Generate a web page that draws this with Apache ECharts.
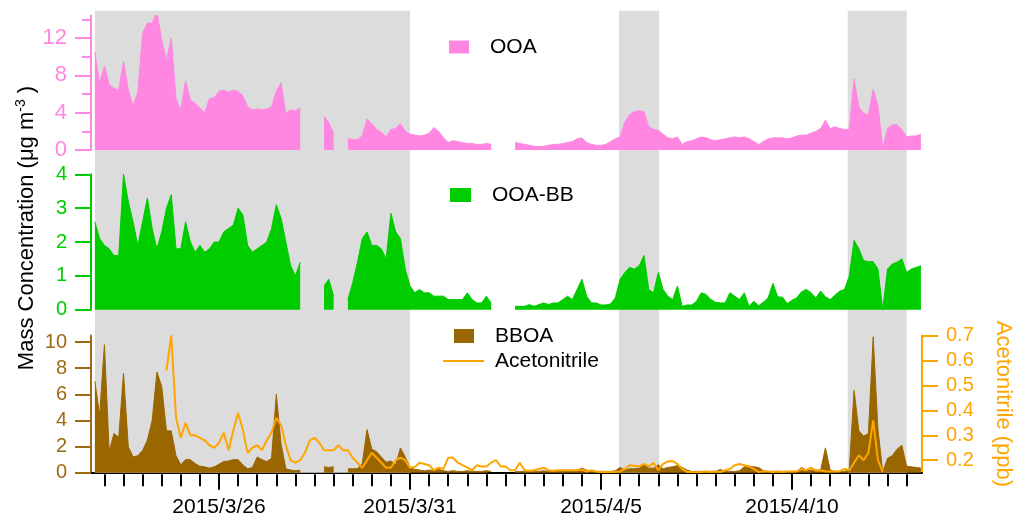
<!DOCTYPE html>
<html><head><meta charset="utf-8">
<script src="https://cdn.jsdelivr.net/npm/echarts@6/dist/echarts.min.js"></script>
<style>html,body{margin:0;padding:0;background:#fff}#c{width:1016px;height:528px}</style>
</head><body><div id="c"></div>
<script>
// time base: days since 2015-03-21 00:00, samples every 3 h starting 2015-03-22 18:00
const sampleStartDay = 1.75;
const sampleStepDay = 0.125;
const axisMinDay = 1.649;
const axisMaxDay = 23.403;

const ooa = [10.5,7.1,9.0,7.0,6.6,6.4,9.5,6.5,4.7,6.2,
12.5,13.6,13.6,14.8,11.8,9.6,12.0,5.5,4.3,7.4,
5.4,5.0,4.5,4.0,5.5,5.6,6.3,6.4,6.2,6.4,
6.3,5.8,4.6,4.3,4.4,4.3,4.4,4.6,6.3,7.2,
3.9,4.3,4.2,4.5,null,null,null,null,3.6,2.9,
1.8,null,null,1.25,1.1,1.1,1.5,3.3,2.8,2.2,
1.9,1.4,2.2,2.3,2.8,2.0,1.7,1.6,1.5,1.6,
1.8,2.4,2.0,1.3,0.8,1.0,0.9,0.8,0.7,0.7,
0.6,0.6,0.7,0.6,null,null,null,null,0.8,0.7,
0.6,0.5,0.4,0.35,0.4,0.5,0.6,0.6,0.7,0.8,
0.9,1.2,1.3,0.8,0.6,0.5,0.5,0.6,0.9,1.2,
1.4,3.0,3.8,4.1,4.2,4.1,2.5,2.2,2.1,1.7,
1.3,1.2,1.4,0.6,0.9,1.0,1.2,1.4,1.3,1.1,
1.0,1.1,1.2,1.3,1.4,1.3,1.4,1.2,0.9,0.6,
0.9,1.2,1.3,1.3,1.3,1.2,1.3,1.5,1.6,1.6,
1.8,2.0,2.3,3.2,2.3,2.5,2.3,2.2,2.2,7.6,
4.6,3.9,3.8,6.5,4.8,0.2,2.3,2.7,2.7,2.2,
1.4,1.5,1.5,1.7];

const ooaBB = [2.6,2.1,1.9,1.8,1.6,1.6,4.0,3.2,2.6,1.9,
2.6,3.3,2.4,1.8,2.3,3.0,3.4,1.8,1.8,2.6,
2.0,1.7,1.9,1.7,1.8,2.0,2.0,2.3,2.4,2.5,
3.0,2.8,1.9,1.7,1.8,1.9,2.0,2.4,3.1,2.7,
2.0,1.3,1.0,1.4,null,null,null,null,0.7,0.9,
0.4,null,null,0.3,0.8,1.4,2.1,2.3,1.9,1.9,
1.8,1.5,2.85,2.3,2.1,1.2,0.7,0.5,0.6,0.5,
0.5,0.4,0.4,0.4,0.3,0.3,0.3,0.3,0.5,0.3,
0.2,0.2,0.4,0.2,null,null,null,null,0.1,0.1,
0.1,0.15,0.1,0.15,0.2,0.15,0.2,0.2,0.3,0.4,
0.3,0.6,0.9,0.4,0.2,0.2,0.14,0.14,0.17,0.35,
0.9,1.1,1.25,1.2,1.3,1.6,0.6,0.5,1.1,0.6,
0.4,0.3,0.7,0.1,0.14,0.14,0.25,0.5,0.45,0.3,
0.22,0.2,0.2,0.5,0.4,0.3,0.5,0.1,0.25,0.12,
0.22,0.35,0.78,0.38,0.37,0.18,0.28,0.35,0.53,0.6,
0.5,0.35,0.55,0.38,0.3,0.43,0.55,0.6,1.0,2.05,
1.8,1.45,1.42,1.42,1.2,0.0,1.2,1.35,1.4,1.5,
1.1,1.2,1.25,1.3];

const bboa = [7.0,4.4,9.8,1.6,3.0,2.7,7.6,2.0,1.2,1.3,
1.7,2.5,4.0,7.7,6.6,3.2,3.2,1.3,0.6,1.0,
1.0,0.7,0.5,0.45,0.35,0.45,0.65,0.85,0.9,1.0,
1.0,0.6,0.3,0.4,1.2,1.0,0.85,1.1,6.0,2.2,
0.3,0.2,0.15,0.2,null,null,null,null,0.45,0.4,
0.45,null,null,0.3,0.3,0.3,0.7,3.3,1.8,1.6,
1.2,0.8,0.9,0.6,1.9,1.2,0.4,0.25,0.2,0.15,
0.2,0.15,0.25,0.15,0.1,0.15,0.1,0.1,0.15,0.1,
0.1,0.1,0.15,0.1,null,null,null,null,0.1,0.1,
0.1,0.1,0.1,0.1,0.15,0.1,0.1,0.1,0.1,0.15,
0.1,0.2,0.35,0.2,0.1,0.1,0.1,0.1,0.1,0.15,
0.4,0.2,0.3,0.3,0.35,0.6,0.35,0.35,0.6,0.3,
0.4,0.45,0.55,0.4,0.2,0.1,0.1,0.1,0.1,0.1,
0.1,0.25,0.1,0.1,0.1,0.15,0.45,0.5,0.45,0.4,
0.15,0.1,0.1,0.1,0.1,0.1,0.1,0.1,0.4,0.2,
0.2,0.2,0.2,1.9,0.2,0.1,0.1,0.1,0.3,6.3,
3.2,2.8,3.0,10.4,3.3,0.05,1.1,1.3,1.8,2.1,
0.5,0.45,0.4,0.35];

const acetonitrile = [null,null,null,null,null,null,null,null,null,null,
null,null,null,null,null,0.56,0.70,0.37,0.29,0.35,
0.30,0.30,0.29,0.28,0.26,0.25,0.27,0.31,0.24,0.32,
0.39,0.32,0.23,0.25,0.26,0.24,0.28,0.31,0.37,0.34,
0.26,0.20,0.19,0.20,0.23,0.28,0.29,0.27,0.24,0.24,
0.24,0.26,0.24,0.24,0.21,0.19,0.17,0.20,0.23,0.21,
0.19,0.17,0.17,0.20,0.21,0.20,0.17,0.173,0.19,0.185,
0.18,0.16,0.17,0.165,0.21,0.21,0.19,0.18,0.17,0.16,
0.18,0.175,0.175,0.19,0.20,0.175,0.175,0.16,0.16,0.19,
0.16,0.158,0.16,0.165,0.17,0.16,0.158,0.16,0.16,0.16,
0.16,0.16,0.162,0.155,0.16,0.155,0.153,0.153,0.153,0.153,
0.155,0.165,0.18,0.178,0.175,0.185,0.175,0.19,0.16,0.185,
0.195,0.197,0.185,0.165,0.153,0.153,0.152,0.153,0.155,0.153,
0.155,0.153,0.16,0.165,0.18,0.185,0.18,0.175,0.165,0.153,
0.155,0.155,0.153,0.155,0.153,0.155,0.155,0.155,0.165,0.16,
0.17,0.158,0.16,0.155,0.155,0.155,0.156,0.165,0.16,0.19,
0.22,0.20,0.23,0.36,0.20,0.153,null,null,null,null,
null,null,null,null];

// shaded periods (days since 2015-03-21)
const bandStart = [1.754, 15.471, 21.458];
const bandEnd = [10.0, 16.526, 23.003];

// axis ticks
const xLabelDays = [5, 10, 15, 20];
const xMinorDays = [];
for (let d = 2; d <= 23; d += 0.5) xMinorDays.push(d);
const ooaTicks = [0, 4, 8, 12];
const ooaMinorTicks = [2, 6, 10, 14];
const ooaBBTicks = [0, 1, 2, 3, 4];
const bboaTicks = [0, 2, 4, 6, 8, 10];
const acnTicks = [0.2, 0.3, 0.4, 0.5, 0.6, 0.7];

const toPairs = arr => arr.map((v, i) => [sampleStartDay + i * sampleStepDay, v]);

const PINK = '#ff87e1', GREEN = '#00cc00', BROWN = '#996600', BROWN_AX = '#9e6a12', ORANGE = '#ffa500';
const FONT = 'Liberation Sans, Arial, sans-serif';
const L = 91, R = 94;

function dayLabel(d) {
  const dt = new Date(2015, 2, 21 + Math.round(d));
  return dt.getFullYear() + '/' + (dt.getMonth() + 1) + '/' + dt.getDate();
}

function yAx(grid, min, max, color, ticks, fs, extra) {
  return Object.assign({
    type: 'value', gridIndex: grid, min: min, max: max, position: 'left',
    axisLine: { show: true, lineStyle: { color: color, width: 2 } },
    axisTick: { show: true, customValues: ticks, length: 16, lineStyle: { color: color, width: 2 } },
    axisLabel: { show: true, customValues: ticks, color: color, fontSize: fs, fontFamily: FONT, margin: 24 },
    splitLine: { show: false }
  }, extra || {});
}
function hiddenX(grid) {
  return { type: 'value', gridIndex: grid, min: axisMinDay, max: axisMaxDay, show: false };
}

const chart = echarts.init(document.getElementById('c'), null, { renderer: 'canvas' });
chart.setOption({
  animation: false,
  backgroundColor: '#fff',
  textStyle: { fontFamily: FONT },
  grid: [
    { left: L, right: R, top: 15.6, height: 134.4, outerBoundsMode: 'none' },
    { left: L, right: R, top: 174.3, height: 135.4, outerBoundsMode: 'none' },
    { left: L, right: R, top: 335.5, height: 137.2, outerBoundsMode: 'none' },
    { left: L, right: R, top: 10.7, height: 462, outerBoundsMode: 'none' }
  ],
  xAxis: [
    hiddenX(0),
    hiddenX(1),
    { type: 'value', gridIndex: 2, min: axisMinDay, max: axisMaxDay, offset: 1.5, position: 'bottom',
      axisLine: { show: true, lineStyle: { color: '#000', width: 2 } },
      axisTick: { show: true, customValues: xLabelDays, length: 17, lineStyle: { color: '#000', width: 2 } },
      axisLabel: { show: true, customValues: xLabelDays, formatter: v => dayLabel(v), fontSize: 21, color: '#000', fontFamily: FONT, margin: 23 },
      splitLine: { show: false } },
    { type: 'value', gridIndex: 2, min: axisMinDay, max: axisMaxDay, offset: 1.5, position: 'bottom',
      axisLine: { show: false },
      axisTick: { show: true, customValues: xMinorDays, length: 12, lineStyle: { color: '#000', width: 2 } },
      axisLabel: { show: false }, splitLine: { show: false } },
    hiddenX(3)
  ],
  yAxis: [
    yAx(0, 0, 14.4, PINK, ooaTicks, 22),
    { type: 'value', gridIndex: 0, min: 0, max: 14.4, position: 'left', axisLine: { show: false },
      axisTick: { show: true, customValues: ooaMinorTicks, length: 9, lineStyle: { color: PINK, width: 2 } },
      axisLabel: { show: false }, splitLine: { show: false } },
    yAx(1, 0, 4, GREEN, ooaBBTicks, 20),
    yAx(2, 0, 10.5, BROWN_AX, bboaTicks, 20),
    yAx(2, 0.15, 0.7, ORANGE, acnTicks, 20, { position: 'right', axisLabel: { show: true, customValues: acnTicks, color: ORANGE, fontSize: 20, fontFamily: FONT, margin: 24, formatter: v => v.toFixed(1) } }),
    { type: 'value', gridIndex: 3, min: 0, max: 1, show: false }
  ],
  legend: [
    { data: ['OOA'], left: 449, top: 36, padding: 0, icon: 'rect', itemWidth: 20, itemHeight: 13,
      textStyle: { fontSize: 21, lineHeight: 22, color: '#000', padding: [0, 0, 0, 16] } },
    { data: ['OOA-BB'], left: 450, top: 184, padding: 0, icon: 'rect', itemWidth: 21, itemHeight: 14,
      textStyle: { fontSize: 21, lineHeight: 22, color: '#000', padding: [0, 0, 0, 16] } },
    { data: ['BBOA'], left: 454, top: 325, padding: 0, icon: 'rect', itemWidth: 20, itemHeight: 14,
      textStyle: { fontSize: 21, lineHeight: 22, color: '#000', padding: [0, 0, 0, 16] } },
    { data: ['Acetonitrile'], left: 443, top: 350, padding: 0, icon: 'rect', itemWidth: 41, itemHeight: 2,
      textStyle: { fontSize: 21, lineHeight: 22, color: '#000', padding: [0, 0, 0, 6] } }
  ],
  graphic: [
    { type: 'text', x: 27, y: 228, rotation: Math.PI / 2,
      style: { text: 'Mass Concentration (μg m{sup|-3} )', fill: '#000', font: '22px ' + FONT,
        align: 'center', verticalAlign: 'middle',
        rich: { sup: { fontSize: 14, fontFamily: FONT, fill: '#000', verticalAlign: 'top', lineHeight: 26 } } } },
    { type: 'text', x: 1003, y: 404, rotation: -Math.PI / 2,
      style: { text: 'Acetonitrile (ppb)', fill: ORANGE, font: '22px ' + FONT, align: 'center', verticalAlign: 'middle' } }
  ],
  series: [
    { name: 'shade', type: 'line', xAxisIndex: 4, yAxisIndex: 5, z: 1, silent: true,
      data: [[axisMinDay, null]], symbol: 'none', lineStyle: { opacity: 0 },
      markArea: { silent: true, itemStyle: { color: '#dcdcdc' },
        data: bandStart.map((s, i) => [{ xAxis: s }, { xAxis: bandEnd[i] }]) } },
    { name: 'OOA', type: 'line', xAxisIndex: 0, yAxisIndex: 0, z: 3, data: toPairs(ooa),
      symbol: 'none', connectNulls: false, color: PINK,
      lineStyle: { color: PINK, width: 1 }, areaStyle: { color: PINK, opacity: 1 } },
    { name: 'OOA-BB', type: 'line', xAxisIndex: 1, yAxisIndex: 2, z: 3, data: toPairs(ooaBB),
      symbol: 'none', connectNulls: false, color: GREEN,
      lineStyle: { color: GREEN, width: 1 }, areaStyle: { color: GREEN, opacity: 1 } },
    { name: 'BBOA', type: 'line', xAxisIndex: 2, yAxisIndex: 3, z: 3, data: toPairs(bboa),
      symbol: 'none', connectNulls: false, color: BROWN,
      lineStyle: { color: BROWN, width: 1 }, areaStyle: { color: BROWN, opacity: 1 } },
    { name: 'Acetonitrile', type: 'line', xAxisIndex: 2, yAxisIndex: 4, z: 4, data: toPairs(acetonitrile),
      symbol: 'none', connectNulls: false, color: ORANGE,
      lineStyle: { color: ORANGE, width: 2 } }
  ]
});
</script></body></html>
